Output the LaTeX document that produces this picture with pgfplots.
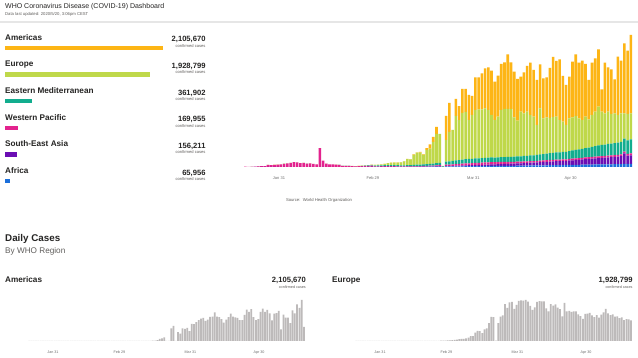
\documentclass[border=0pt]{standalone}
\usepackage{fontspec}
\setmainfont{Liberation Sans}
\usepackage{pgfplots}
\usepackage{pgfplotstable}
\pgfplotsset{compat=1.18}
\newcommand\fs[1]{\fontsize{#1}{#1}\selectfont}
\definecolor{cAm}{HTML}{FDB515}
\definecolor{cEu}{HTML}{BFD84A}
\definecolor{cEM}{HTML}{12AD8E}
\definecolor{cWP}{HTML}{E3238E}
\definecolor{cSEA}{HTML}{6B0EB3}
\definecolor{cAf}{HTML}{1B6FDB}
\definecolor{txt}{HTML}{252423}
\definecolor{sub}{HTML}{605E5C}
\definecolor{tickc}{HTML}{6E6E6E}
\definecolor{sgray}{HTML}{BDBABA}
\definecolor{rulec}{HTML}{E6E6E6}

% daily new confirmed cases by WHO region; d = days after Jan 31
\pgfplotstableread{
d a s w e u m
-10 0 0 280 0 0 0
-9 0 0 150 0 0 0
-8 0 1 130 0 0 1
-7 0 2 260 0 0 0
-6 0 1 450 0 3 1
-5 0 2 690 0 0 0
-4 0 1 770 0 0 2
-3 0 2 1770 0 1 0
-2 0 3 1460 4 2 0
-1 0 1 1740 0 3 1
0 0 2 1980 0 5 1
1 0 0 2100 0 2 0
2 0 2 2590 1 4 2
3 0 0 2830 0 1 0
4 0 1 3240 0 2 0
5 0 0 3890 1 3 0
6 0 0 3700 0 4 0
7 0 1 3150 0 3 0
8 0 0 3390 0 5 0
9 0 0 2660 1 3 0
10 0 1 2990 0 2 1
11 0 0 2480 0 0 0
12 0 0 2030 0 1 0
13 0 0 15150 0 1 1
14 1 0 5100 0 0 0
15 0 0 2650 0 3 0
16 0 0 2020 0 0 0
17 0 0 2060 0 0 0
18 0 0 1900 0 2 2
19 0 0 1760 2 1 0
20 0 0 830 3 20 0
21 0 0 900 13 30 0
22 0 0 840 10 80 0
23 0 0 660 30 120 0
24 0 0 500 50 160 1
25 0 0 600 100 200 2
26 1 0 700 150 240 3
27 1 0 850 250 280 5
28 2 1 900 350 320 8
29 2 1 1000 450 400 10
30 16 16 480 560 560 10
31 16 16 560 640 640 20
32 16 24 640 640 800 30
33 24 24 720 720 1040 40
34 24 24 720 800 1440 60
35 24 32 640 880 1760 80
36 32 32 560 960 2000 100
37 32 40 400 960 2160 120
38 40 40 320 880 2480 150
39 40 48 320 960 3200 200
40 48 64 320 1040 4800 160
41 64 80 320 1040 4640 240
42 80 80 400 1200 8000 240
43 96 96 400 1280 9680 160
44 120 120 400 1280 9600 500
45 160 160 480 1360 7520 400
46 200 160 480 1440 11360 1360
47 240 200 560 1520 12160 3360
48 280 240 640 1600 17280 4000
49 320 280 720 1760 23360 5600
50 320 320 800 1920 23200 0
51 0 0 160 240 400 0
52 400 400 1040 2400 17360 19200
53 400 400 1120 2560 23520 23200
54 480 480 1200 2720 24720 0
55 480 560 1280 2880 35600 13600
56 560 560 1360 3040 32000 11200
57 560 640 1440 3200 37360 19200
58 640 720 1520 3360 37760 18400
59 640 800 1520 3440 31200 20000
60 640 800 1600 3520 35040 15200
61 720 880 1600 3600 38800 26160
62 720 960 1680 3600 39200 25600
63 720 960 1760 3680 39040 28800
64 800 1040 1760 3680 39680 32000
65 800 1120 1840 3760 38080 34160
66 800 1200 1920 3680 34000 35440
67 800 1280 1840 3600 30080 30640
68 880 1360 1760 3680 32560 32800
69 880 1440 1680 3840 37760 36800
70 880 1520 1600 3920 38480 37360
71 960 1600 1520 4000 38320 43760
72 960 1680 1520 4000 38240 37360
73 960 1760 1440 4080 31520 36480
74 1040 1840 1440 4160 28560 33360
75 1040 1920 1360 4240 35680 28000
76 1120 2000 1360 4320 34160 32800
77 1120 2080 1280 4400 35360 36560
78 1200 2240 1280 4560 32320 41840
79 1200 2320 1200 4640 30880 37360
80 1280 2400 1200 4800 23920 36000
81 1280 2560 1200 4960 36960 35200
82 1360 2640 1200 5120 28640 32000
83 1360 2800 1280 5280 29040 32000
84 1440 2880 1280 5440 28160 40000
85 1440 3040 1280 5600 28640 48000
86 1520 3120 1200 5760 28640 44560
87 1520 3200 1200 5840 25840 48560
88 1600 3280 1200 6000 24160 36560
89 1600 3360 1200 6000 21440 32000
90 1680 3520 1280 6240 26240 33280
91 1680 3680 1280 6560 26560 44480
92 1760 3840 1280 6800 27120 49360
93 1760 4000 1280 7040 24880 44480
94 1840 4160 1280 7200 23120 47440
95 1840 4400 1360 7520 25120 42160
96 1920 4560 1360 7680 22640 31440
97 1920 4720 1360 8000 25600 41840
98 2000 4880 1360 8400 27600 42720
99 2000 5040 1360 8800 31040 45920
100 2080 5200 1360 8960 26640 17920
101 2080 5360 1360 9120 25040 40480
102 2160 5600 1360 9280 25840 35520
103 2160 5760 1360 9440 23680 35760
104 2240 5920 1360 9600 23840 27200
105 2240 6080 1360 9760 22160 46640
106 2320 6320 1360 10000 22960 42080
107 2400 8400 1440 10400 20320 56000
108 2400 6640 1440 10800 21120 50640
109 2480 6880 1440 11200 20960 62640
110 0 0 0 0 20000 21600
}\data

\begin{document}
\begin{tikzpicture}
\useasboundingbox (0,0) rectangle (638pt,-358pt);
\fill[white] (0,0) rectangle (638pt,-358pt);

% header
\node[anchor=base west, inner sep=0pt, font=\fs{7}, text=txt] at (5pt,-8.6pt) {WHO Coronavirus Disease (COVID-19) Dashboard};
\node[anchor=base west, inner sep=0pt, font=\fs{4.2}, text=sub] at (5pt,-15.8pt) {Data last updated: 2020/5/20, 3:06pm CEST};
\fill[rulec] (0pt,-21.2pt) rectangle (638pt,-22.8pt);

% left panel: totals by region
\begin{axis}[at={(5pt,-34.47pt)}, anchor=north west, scale only axis,
  width=158.3pt, height=160pt, xmin=0, xmax=2105670, ymin=-0.5, ymax=5.5,
  y dir=reverse, xbar, bar shift=0pt, bar width=4.3pt, hide axis, clip=false]
\addplot[fill=cAm, draw=none] coordinates {(2105670,0)};
\addplot[fill=cEu, draw=none] coordinates {(1928799,1)};
\addplot[fill=cEM, draw=none] coordinates {(361902,2)};
\addplot[fill=cWP, draw=none] coordinates {(169955,3)};
\addplot[fill=cSEA, draw=none] coordinates {(156211,4)};
\addplot[fill=cAf, draw=none] coordinates {(65956,5)};
\end{axis}

\foreach \nm/\val [count=\i from 0] in {Americas/{2,105,670}, Europe/{1,928,799}, Eastern Mediterranean/{361,902}, Western Pacific/{169,955}, South-East Asia/{156,211}, Africa/{65,956}} {
  \node[anchor=base west, inner sep=0pt, font=\fs{8.2}\bfseries, text=txt] at (5pt,{-40.3pt-26.67pt*\i}) {\nm};
  \node[anchor=base east, inner sep=0pt, font=\fs{7.6}\bfseries, text=txt] at (205.7pt,{-41.7pt-26.67pt*\i}) {\val};
  \node[anchor=base east, inner sep=0pt, font=\fs{4.1}, text=sub] at (205.7pt,{-47.3pt-26.67pt*\i}) {confirmed cases};
}

% main stacked chart
\begin{axis}[at={(242.06pt,-167pt)}, anchor=south west, scale only axis,
  width=392.04pt, height=140pt, xmin=-11, xmax=110, ymin=0, ymax=112000,
  ybar stacked, bar width=2.6pt, axis line style={draw=none},
  ytick=\empty, xtick={0.4,29.4,60.4,90.4},
  xticklabels={Jan 31,Feb 29,Mar 31,Apr 30}, major tick length=0pt,
  xticklabel style={font=\fs{4}, text=tickc, yshift=-6pt},
  restrict x to domain=-10:109]
\addplot[fill=cAf, draw=none] table[x=d, y=a]{\data};
\addplot[fill=cSEA, draw=none] table[x=d, y=s]{\data};
\addplot[fill=cWP, draw=none] table[x=d, y=w]{\data};
\addplot[fill=cEM, draw=none] table[x=d, y=e]{\data};
\addplot[fill=cEu, draw=none] table[x=d, y=u]{\data};
\addplot[fill=cAm, draw=none] table[x=d, y=m]{\data};
\end{axis}
\node[font=\fs{4.2}, text=sub, inner sep=0pt] at (319pt,-200pt) {Source:\ \ World Health Organization};

% Daily cases section
\node[anchor=base west, inner sep=0pt, font=\fs{9.8}\bfseries, text=txt] at (5pt,-241.7pt) {Daily Cases};
\node[anchor=base west, inner sep=0pt, font=\fs{8.2}, text=sub] at (5pt,-253.8pt) {By WHO Region};

\node[anchor=base west, inner sep=0pt, font=\fs{8.2}\bfseries, text=txt] at (5pt,-283pt) {Americas};
\node[anchor=base east, inner sep=0pt, font=\fs{7.6}\bfseries, text=txt] at (306pt,-283pt) {2,105,670};
\node[anchor=base east, inner sep=0pt, font=\fs{3.7}, text=sub] at (306pt,-289pt) {confirmed cases};

\node[anchor=base west, inner sep=0pt, font=\fs{8.2}\bfseries, text=txt] at (332pt,-283pt) {Europe};
\node[anchor=base east, inner sep=0pt, font=\fs{7.6}\bfseries, text=txt] at (632.7pt,-283pt) {1,928,799};
\node[anchor=base east, inner sep=0pt, font=\fs{3.7}, text=sub] at (632.7pt,-289pt) {confirmed cases};

\begin{axis}[at={(26.9pt,-341pt)}, anchor=south west, scale only axis,
  width=279.38pt, height=41pt, xmin=-11, xmax=111, ymin=0, ymax=62640,
  ybar, bar width=1.75pt, axis line style={draw=none},
  ytick=\empty, xtick={0.4,29.4,60.4,90.4},
  xticklabels={Jan 31,Feb 29,Mar 31,Apr 30}, major tick length=0pt,
  xticklabel style={font=\fs{3.7}, text=tickc, yshift=-6pt}]
\addplot[fill=sgray, draw=none] table[x=d, y=m]{\data};
\end{axis}

\begin{axis}[at={(353.9pt,-341pt)}, anchor=south west, scale only axis,
  width=279.38pt, height=41pt, xmin=-11, xmax=111, ymin=0, ymax=39680,
  ybar, bar width=1.75pt, axis line style={draw=none},
  ytick=\empty, xtick={0.4,29.4,60.4,90.4},
  xticklabels={Jan 31,Feb 29,Mar 31,Apr 30}, major tick length=0pt,
  xticklabel style={font=\fs{3.7}, text=tickc, yshift=-6pt}]
\addplot[fill=sgray, draw=none] table[x=d, y=u]{\data};
\end{axis}
\end{tikzpicture}
\end{document}
